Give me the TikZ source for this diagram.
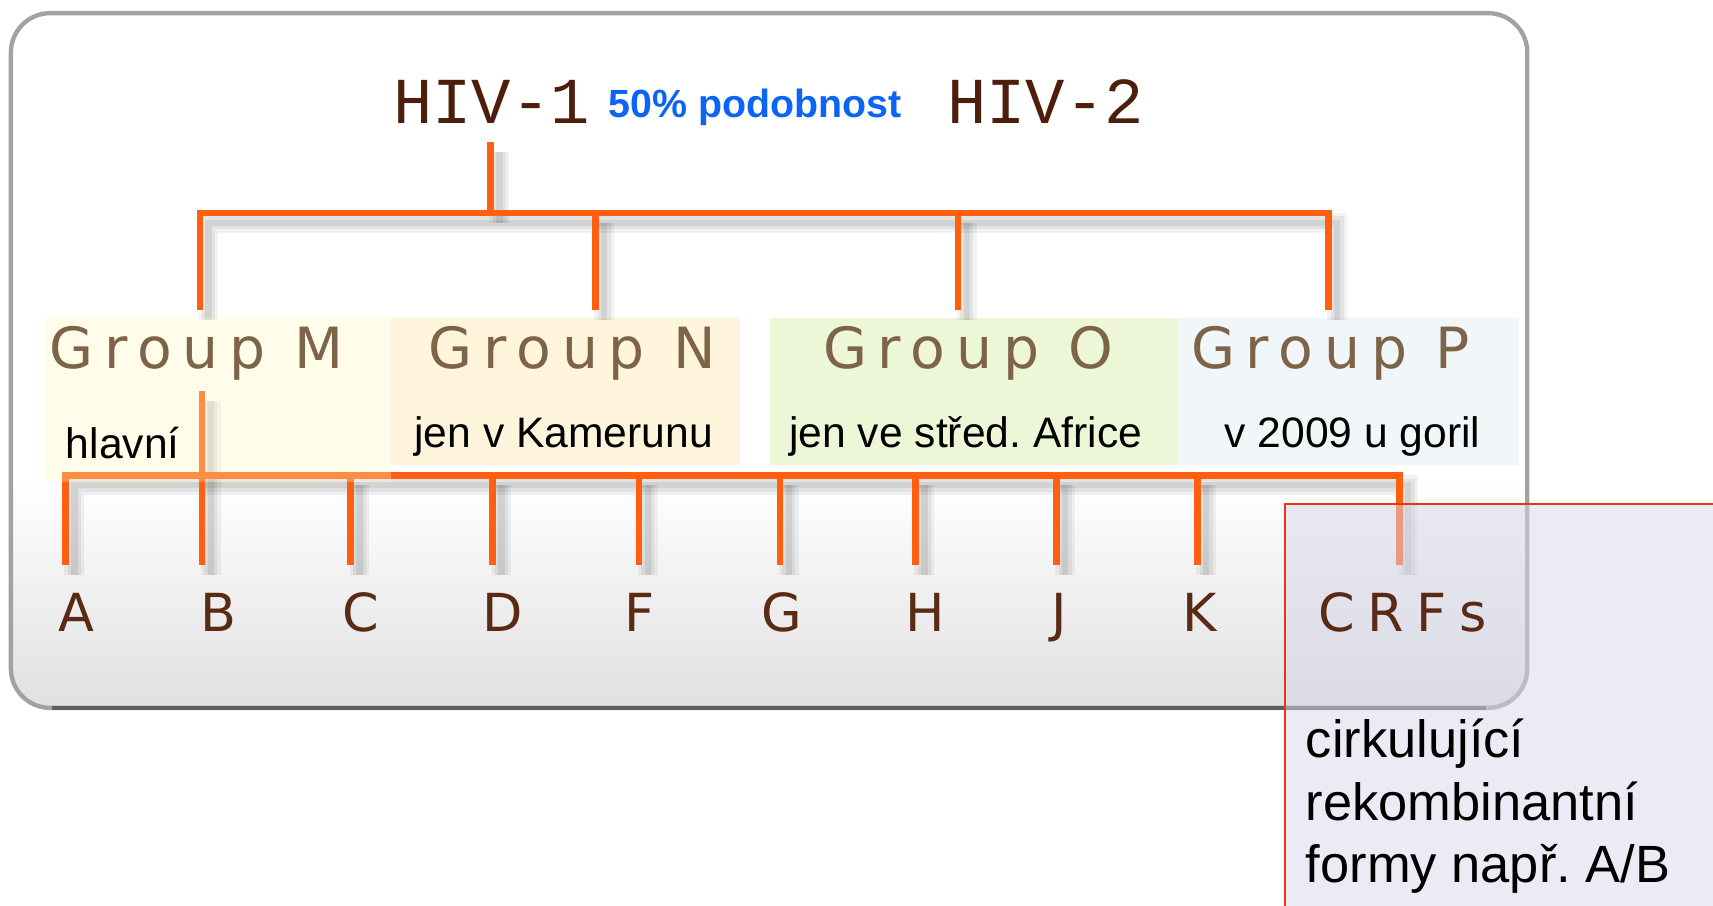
\documentclass[tikz,border=0pt]{standalone}
\usepackage{fontspec}
\setmainfont{Liberation Sans}
\newfontfamily\hivfont{Liberation Mono}
\newfontfamily\titlefont[LetterSpace=19]{DejaVu Sans}
\newfontfamily\letterfont[LetterSpace=24]{DejaVu Sans}
\frenchspacing

\definecolor{branch}{HTML}{FF5F0F}
\definecolor{hivbrown}{HTML}{4E1E0C}
\definecolor{grouptxt}{HTML}{7D6448}
\definecolor{subtype}{HTML}{5A2A14}
\definecolor{pctblue}{HTML}{0A64F5}
\definecolor{boxM}{HTML}{FFF8BC}
\definecolor{boxN}{HTML}{FFF5DC}
\definecolor{boxO}{HTML}{EEF6D8}
\definecolor{boxP}{HTML}{F1F6F8}
\definecolor{noteframe}{HTML}{EE3311}
\definecolor{notefill}{HTML}{D7D7EB}
\definecolor{frameline}{HTML}{A2A2A2}
\definecolor{framebottom}{HTML}{5E5E5E}
\definecolor{floorgray}{HTML}{E0E0E0}

\tikzset{
  conn/.style={draw=branch, line width=3pt, line join=miter},
  connshadowA/.style={draw=black, draw opacity=0.05, line width=9pt, line join=miter},
  connshadowB/.style={draw=black, draw opacity=0.06, line width=6pt, line join=miter},
  connshadowC/.style={draw=black, draw opacity=0.07, line width=3pt, line join=miter},
  hivtxt/.style={inner sep=0pt, text=hivbrown, font=\hivfont\fontsize{30pt}{30pt}\selectfont},
  pcttxt/.style={inner sep=0pt, text=pctblue, font=\bfseries\fontsize{18pt}{18pt}\selectfont},
  grouptitle/.style={inner sep=0pt, text=grouptxt, font=\titlefont\fontsize{26pt}{26pt}\selectfont},
  groupnote/.style={inner sep=0pt, text=black, font=\fontsize{19.5pt}{19.5pt}\selectfont},
  subtypetxt/.style={inner sep=0pt, text=subtype, font=\letterfont\fontsize{24pt}{24pt}\selectfont},
  crfnote/.style={inner sep=0pt, text=black, font=\fontsize{24pt}{24pt}\selectfont},
}

% all branch lines of the tree, drawn with the style given
\newcommand\treepaths[1]{%
  \draw[#1] (hivstem) -- (hivstem |- barTL);
  \draw[#1] (mTop) -- (barTL) -- (barTR) -- (pTop);
  \draw[#1] (nTop) -- (nTop |- barTL);
  \draw[#1] (oTop) -- (oTop |- barTL);
  \draw[#1] (dA) -- (barBL) -- (barBR) -- (dCRF);
  \draw[#1] (dB) -- (bStart);
  \foreach \d in {dC,dD,dF,dG,dH,dJ,dK} \draw[#1] (\d) -- (\d |- barBL);
}

\begin{document}
\begin{tikzpicture}[x=0.5pt, y=-0.5pt]
\useasboundingbox (0,0) rectangle (1568,829);
\clip (0,0) rectangle (1568,829);

% outer panel
\path[fill=white, rounded corners=18pt] (10,12) rectangle (1398,648);
\begin{scope}
  \clip[rounded corners=18pt] (10,12) rectangle (1398,648);
  \shade[top color=white, bottom color=floorgray] (0,440) rectangle (1400,650);
\end{scope}
\draw[frameline, line width=2pt, rounded corners=18pt] (10,12) rectangle (1398,648);
\draw[framebottom, line width=2pt] (48,648) -- (1360,648);

% group backgrounds N, O, P
\fill[boxN] (358,291) rectangle (677,426);
\fill[boxO] (705,291) rectangle (1078,426);
\fill[boxP] (1078,291) rectangle (1390,426);

% branch end points
\coordinate (hivstem) at (449,130);
\coordinate (barTL) at (183,195);
\coordinate (barTR) at (1216,195);
\coordinate (mTop) at (183,284);
\coordinate (nTop) at (545,284);
\coordinate (oTop) at (877,284);
\coordinate (pTop) at (1216,284);
\coordinate (barBL) at (60,435);
\coordinate (barBR) at (1281,435);
\coordinate (bStart) at (185,358);
\coordinate (dA) at (60,517);
\coordinate (dB) at (185,517);
\coordinate (dC) at (321,517);
\coordinate (dD) at (451,517);
\coordinate (dF) at (585,517);
\coordinate (dG) at (714,517);
\coordinate (dH) at (838,517);
\coordinate (dJ) at (967,517);
\coordinate (dK) at (1096,517);
\coordinate (dCRF) at (1281,517);

% soft shadows of the branches
\begin{scope}[transform canvas={shift={(4pt,-4.5pt)}}]
  \treepaths{connshadowA}
  \treepaths{connshadowB}
  \treepaths{connshadowC}
\end{scope}

% branches
\treepaths{conn}

% group M background lies over its branches
\fill[boxM, fill opacity=0.3] (42,291) rectangle (358,441);

% top labels
\node[hivtxt, anchor=base] (hiv1) at (450,113) {HIV-1};
\node[pcttxt, anchor=base west] (pct) at (557,108) {50\% podobnost};
\node[hivtxt, anchor=base] (hiv2) at (957,113) {HIV-2};

% group titles
\node[grouptitle, anchor=base] (gM) at (180,337) {Group M};
\node[grouptitle, anchor=base] (gN) at (524,337) {Group N};
\node[grouptitle, anchor=base] (gO) at (886,337) {Group O};
\node[grouptitle, anchor=base] (gP) at (1218,337) {Group P};

% group notes
\node[groupnote, anchor=base west] (nM) at (60,420) {hlavní};
\node[groupnote, anchor=base] (nN) at (516,410) {jen v Kamerunu};
\node[groupnote, anchor=base] (nO) at (884,410) {jen ve střed. Africe};
\node[groupnote, anchor=base] (nP) at (1238,410) {v 2009 u goril};

% subtypes
\node[subtypetxt, anchor=base] (sA) at (70,578) {A};
\node[subtypetxt, anchor=base] (sB) at (200,578) {B};
\node[subtypetxt, anchor=base] (sC) at (330,578) {C};
\node[subtypetxt, anchor=base] (sD) at (460,578) {D};
\node[subtypetxt, anchor=base] (sF) at (585,578) {F};
\node[subtypetxt, anchor=base] (sG) at (716,578) {G};
\node[subtypetxt, anchor=base] (sH) at (847,578) {H};
\node[subtypetxt, anchor=base] (sJ) at (970,578) {J};
\node[subtypetxt, anchor=base] (sK) at (1098,578) {K};

% note on recombinant forms
\path[fill=notefill, fill opacity=0.5, draw=noteframe, line width=0.8pt] (1176,461) rectangle (1620,880);
\node[subtypetxt, anchor=base] (sCRF) at (1284,578) {CRFs};
\node[crfnote, anchor=base west] (crf1) at (1195,693) {cirkulující};
\node[crfnote, anchor=base west] (crf2) at (1195,751) {rekombinantní};
\node[crfnote, anchor=base west] (crf3) at (1195,808) {formy např. A/B};
\end{tikzpicture}
\end{document}
